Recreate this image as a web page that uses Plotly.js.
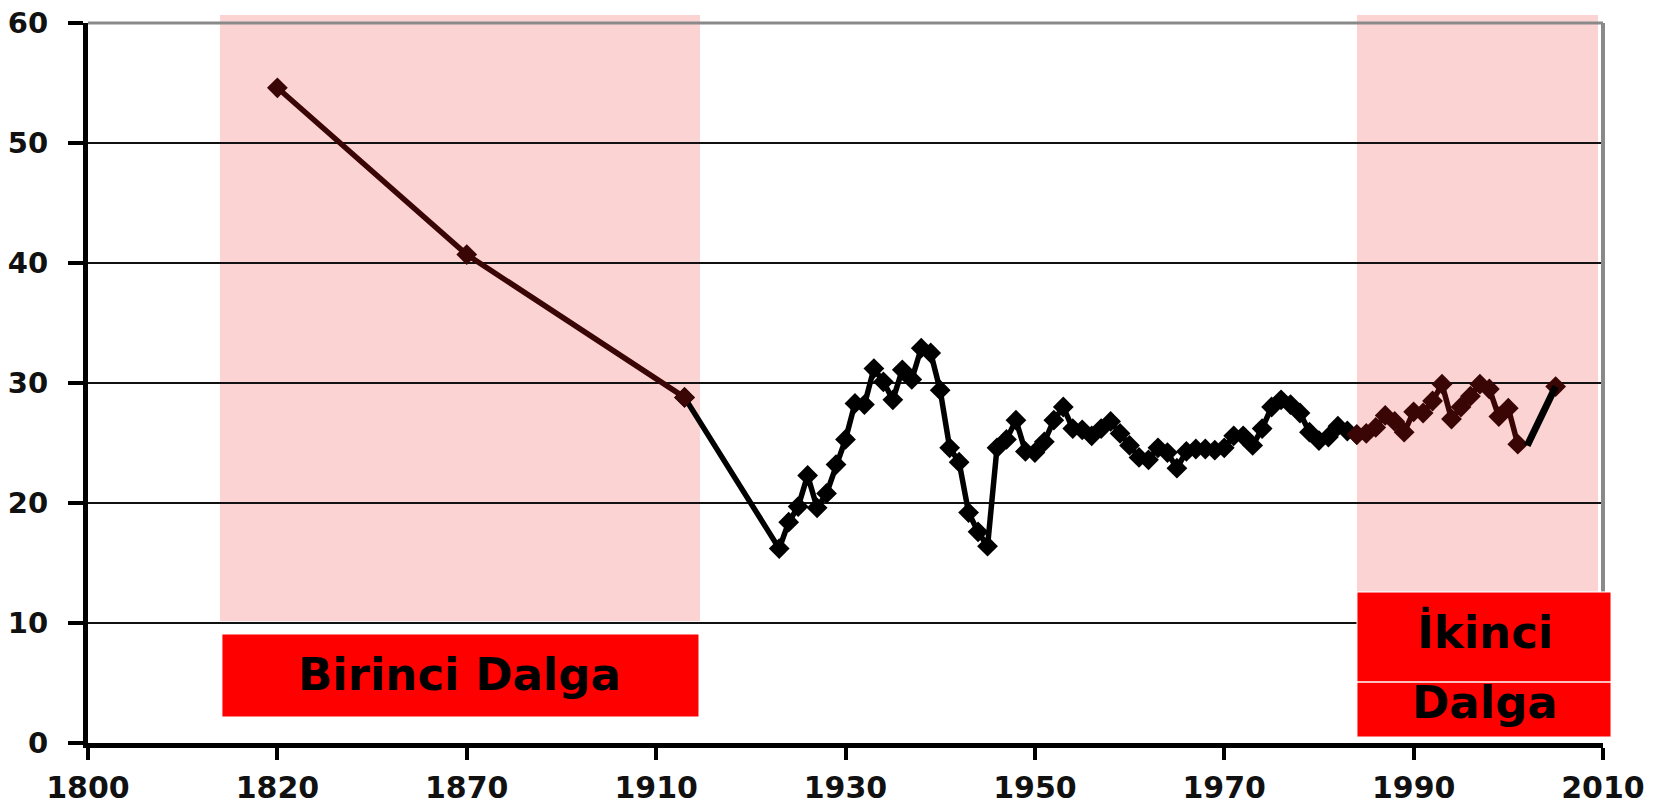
<!DOCTYPE html>
<html>
<head>
<meta charset="utf-8">
<script src="https://cdn.plot.ly/plotly-3.0.1.min.js"></script>
<style>
  html, body { margin: 0; padding: 0; background: #ffffff; }
  #chart { width: 1655px; height: 810px; }
</style>
</head>
<body>
<div id="chart"></div>
<script>
// ---- Data ----
const tickLabels = ['1800', '1820', '1870', '1910', '1930', '1950', '1970', '1990', '2010'];
const yTickValues = [0, 10, 20, 30, 40, 50, 60];

const earlyYears = [1820, 1870, 1913];
const earlyValues = [54.6, 40.7, 28.8];

const annualYears = [
  1923, 1924, 1925, 1926, 1927, 1928, 1929, 1930, 1931, 1932,
  1933, 1934, 1935, 1936, 1937, 1938, 1939, 1940, 1941, 1942,
  1943, 1944, 1945, 1946, 1947, 1948, 1949, 1950, 1951, 1952,
  1953, 1954, 1955, 1956, 1957, 1958, 1959, 1960, 1961, 1962,
  1963, 1964, 1965, 1966, 1967, 1968, 1969, 1970, 1971, 1972,
  1973, 1974, 1975, 1976, 1977, 1978, 1979, 1980, 1981, 1982,
  1983, 1984, 1985, 1986, 1987, 1988, 1989, 1990, 1991, 1992,
  1993, 1994, 1995, 1996, 1997, 1998, 1999, 2000, 2001
];
const annualValues = [
  16.2, 18.4, 19.7, 22.3, 19.6, 20.8, 23.2, 25.3, 28.3, 28.2,
  31.2, 30.1, 28.6, 31.1, 30.3, 32.9, 32.5, 29.4, 24.6, 23.4,
  19.2, 17.6, 16.4, 24.6, 25.3, 26.9, 24.3, 24.2, 25.1, 26.9,
  28.0, 26.2, 26.1, 25.6, 26.2, 26.8, 25.8, 24.8, 23.8, 23.6,
  24.6, 24.2, 22.9, 24.3, 24.5, 24.5, 24.4, 24.6, 25.6, 25.6,
  24.8, 26.2, 28.0, 28.6, 28.2, 27.5, 25.9, 25.2, 25.5, 26.4,
  26.0, 25.7, 25.8, 26.3, 27.3, 26.8, 25.9, 27.6, 27.5, 28.5,
  29.9, 27.0, 28.0, 28.9, 29.9, 29.5, 27.2, 27.9, 24.9
];

const lastYears = [2005];
const lastValues = [29.7];

// thick hand-drawn connector at the end
const connectorYears = [2002, 2005];
const connectorValues = [24.8, 29.7];

// ---- Category-slot mapping of the original (uneven) time axis ----
function slotOf(year) {
  const idx = tickLabels.indexOf(String(year));
  if (year < 1910 && idx >= 0) return idx * 20;
  return year - 1850;
}

const allYears = earlyYears.concat(annualYears);
const allValues = earlyValues.concat(annualValues);

function pick(lo, hi) {
  const xs = [], ys = [];
  allYears.forEach((yr, i) => {
    if (yr >= lo && yr <= hi) { xs.push(slotOf(yr)); ys.push(allValues[i]); }
  });
  return { x: xs, y: ys };
}

const BLACK = '#000000';
const MAROON = '#3a0505';
const marker = (c) => ({ symbol: 'diamond', size: 16, color: c, line: { width: 0 } });

const mid = pick(1913, 1984);
const early = pick(1800, 1913);
const late = pick(1984, 2001);

const traces = [
  { x: mid.x, y: mid.y, mode: 'lines+markers', line: { color: BLACK, width: 5.5 }, marker: marker(BLACK) },
  { x: early.x, y: early.y, mode: 'lines+markers', line: { color: MAROON, width: 5.5 }, marker: marker(MAROON) },
  { x: late.x, y: late.y, mode: 'lines+markers', line: { color: MAROON, width: 5.5 }, marker: marker(MAROON) },
  { x: lastYears.map(slotOf), y: lastValues, mode: 'markers', marker: marker(MAROON) },
  { x: connectorYears.map(slotOf), y: connectorValues, mode: 'lines', line: { color: BLACK, width: 7 } }
];

// plot area in pixels: x 88..1603, y 23..743
const layout = {
  width: 1655,
  height: 810,
  margin: { l: 88, r: 52, t: 23, b: 67, pad: 0 },
  paper_bgcolor: '#ffffff',
  plot_bgcolor: 'rgba(0,0,0,0)',
  showlegend: false,
  hovermode: false,
  font: { family: 'DejaVu Sans, sans-serif', color: '#000000' },
  xaxis: {
    range: [0, 160],
    tickmode: 'array',
    tickvals: tickLabels.map((_, i) => i * 20),
    ticktext: tickLabels,
    showgrid: false,
    zeroline: false,
    showline: true,
    linecolor: '#000000',
    linewidth: 5,
    ticks: 'outside',
    ticklen: 12,
    tickwidth: 4,
    tickcolor: '#000000',
    ticklabelstandoff: 2,
    tickfont: { family: 'DejaVu Sans', size: 30, color: '#111111', weight: 'bold' }
  },
  yaxis: {
    range: [0, 60],
    tickmode: 'array',
    tickvals: yTickValues,
    ticktext: yTickValues.map(String),
    showgrid: true,
    gridcolor: '#111111',
    gridwidth: 1.5,
    zeroline: false,
    showline: true,
    linecolor: '#000000',
    linewidth: 5,
    ticks: 'outside',
    ticklen: 15,
    tickwidth: 4,
    tickcolor: '#000000',
    ticklabelstandoff: 14,
    tickfont: { family: 'DejaVu Sans', size: 29, color: '#111111', weight: 'bold' }
  },
  shapes: [
    // pink highlighted periods
    { type: 'rect', xref: 'paper', yref: 'paper', x0: 0.0871, x1: 0.4040, y0: 0.169, y1: 1.011,
      fillcolor: '#fbd3d3', line: { width: 0 }, layer: 'below' },
    { type: 'rect', xref: 'paper', yref: 'paper', x0: 0.8376, x1: 0.9967, y0: 0.21, y1: 1.011,
      fillcolor: '#fbd3d3', line: { width: 0 }, layer: 'below' },
    // gray frame top and right
    { type: 'line', xref: 'paper', yref: 'paper', x0: 0, x1: 1.0, y0: 1, y1: 1,
      line: { color: '#8a8a8a', width: 3 }, layer: 'above' },
    { type: 'line', xref: 'paper', yref: 'paper', x0: 1.0, x1: 1.0, y0: 0.21, y1: 1.0,
      line: { color: '#8a8a8a', width: 4 }, layer: 'above' },
    // red label boxes
    { type: 'rect', xref: 'paper', yref: 'paper', x0: 0.0884, x1: 0.4033, y0: 0.0361, y1: 0.1514,
      fillcolor: '#ff0000', line: { color: '#ffffff', width: 1 }, layer: 'above' },
    { type: 'rect', xref: 'paper', yref: 'paper', x0: 0.8376, x1: 1.0053, y0: 0.0083, y1: 0.2097,
      fillcolor: '#ff0000', line: { color: '#ffffff', width: 1 }, layer: 'above' },
    { type: 'line', xref: 'paper', yref: 'paper', x0: 0.8376, x1: 1.0053, y0: 0.0847, y1: 0.0847,
      line: { color: '#ffffff', width: 1.5 }, layer: 'above' }
  ],
  annotations: [
    { xref: 'paper', yref: 'paper', x: 0.2455, y: 0.0951, text: 'Birinci Dalga', showarrow: false,
      xanchor: 'center', yanchor: 'middle',
      font: { family: 'DejaVu Sans', size: 45, color: '#000000', weight: 'bold' } },
    { xref: 'paper', yref: 'paper', x: 0.9224, y: 0.1535, text: 'İkinci', showarrow: false,
      xanchor: 'center', yanchor: 'middle',
      font: { family: 'DejaVu Sans', size: 45, color: '#000000', weight: 'bold' } },
    { xref: 'paper', yref: 'paper', x: 0.9224, y: 0.0560, text: 'Dalga', showarrow: false,
      xanchor: 'center', yanchor: 'middle',
      font: { family: 'DejaVu Sans', size: 45, color: '#000000', weight: 'bold' } }
  ]
};

Plotly.newPlot('chart', traces, layout, { staticPlot: true, displayModeBar: false });
</script>
</body>
</html>
